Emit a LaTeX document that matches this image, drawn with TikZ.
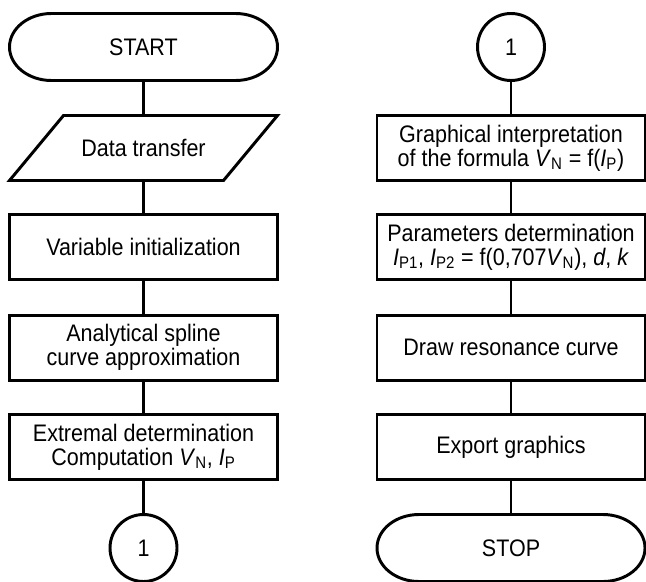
\documentclass[tikz,border=0pt]{standalone}
\usepackage{fontspec}
\setmainfont{Liberation Sans}[FakeStretch=0.9]
\usepackage{tikz}
\usetikzlibrary{calc}

\begin{document}
\begin{tikzpicture}[line width=2.1pt,
  every node/.style={font=\fontsize{17}{17}\selectfont, align=center, inner sep=0pt},
  blok/.style={draw, rectangle, minimum width=6.7cm, minimum height=1.625cm},
  ulaz/.style={rectangle, outer sep=0pt, minimum width=6.7cm, minimum height=1.625cm},
  kraj/.style={rectangle, outer sep=0pt, minimum width=6.7cm, minimum height=1.675cm},
  spoj/.style={draw, circle, minimum size=1.675cm}]
\useasboundingbox (0,0) rectangle (16.15,-14.525);

%--- lijevi stupac ---
\node[kraj] (start) at (3.5875,-1.175) {START};
\node[ulaz] (data) at (3.5875,-3.7) {Data transfer};
\node[blok] (init) at (3.5875,-6.175) {Variable initialization};
\node[blok] (spline) at (3.5875,-8.69) {Analytical spline\\curve approximation};
\node[blok] (extrem) at (3.5875,-11.175) {Extremal determination\\Computation \textit{V}\textsubscript{N}, \textit{I}\textsubscript{P}};
\node[spoj] (con1) at (3.5875,-13.7) {1};
\draw (start) -- (data) -- (init) -- (spline) -- (extrem) -- (con1);

% paralelogram za ulaz podataka
\draw ([xshift=1.35cm]data.north west) -- (data.north east)
  -- ([xshift=-1.35cm]data.south east) -- (data.south west) -- cycle;

%--- desni stupac ---
\node[spoj] (con2) at (12.775,-1.175) {1};
\node[blok] (graf) at (12.775,-3.7) {Graphical interpretation\\of the formula \textit{V}\textsubscript{N} = f(\textit{I}\textsubscript{P})};
\node[blok] (param) at (12.775,-6.175) {Parameters determination\\\textit{I}\textsubscript{P1}, \textit{I}\textsubscript{P2} = f(0,707\textit{V}\textsubscript{N}), \textit{d}, \textit{k}};
\node[blok] (crtaj) at (12.775,-8.69) {Draw resonance curve};
\node[blok] (izvoz) at (12.775,-11.175) {Export graphics};
\node[kraj] (stop) at (12.775,-13.7) {STOP};
\draw (con2) -- (graf) -- (param) -- (crtaj) -- (izvoz) -- (stop);

% oblik START/STOP
\foreach \t in {start,stop}{
  \draw ([xshift=1.05cm]\t.north west) -- ([xshift=-1.05cm]\t.north east)
    arc[start angle=90, end angle=-90, x radius=1.05cm, y radius=0.8375cm]
    -- ([xshift=1.05cm]\t.south west)
    arc[start angle=270, end angle=90, x radius=1.05cm, y radius=0.8375cm] -- cycle;
}
\end{tikzpicture}
\end{document}
